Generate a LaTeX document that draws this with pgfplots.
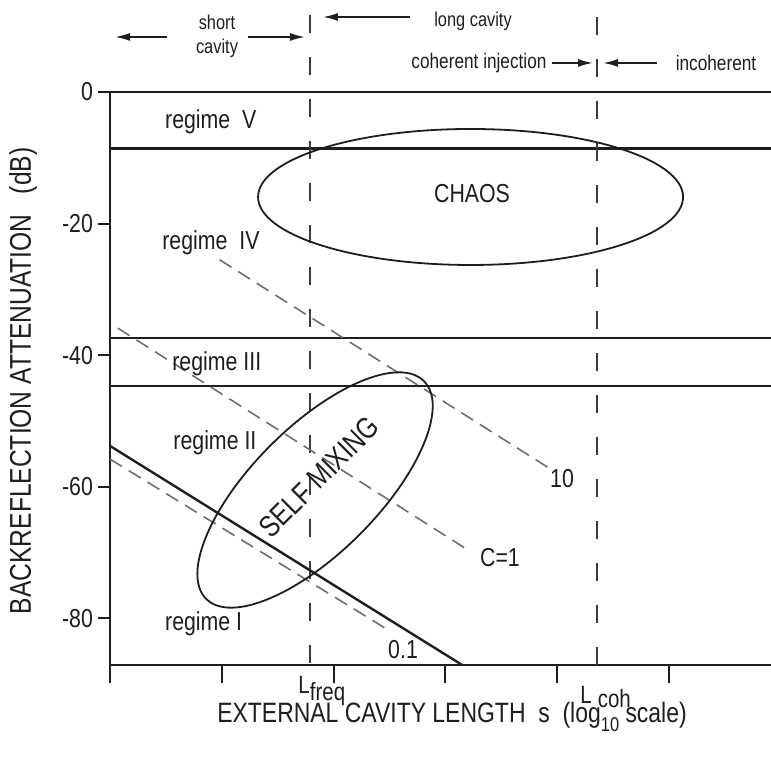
\documentclass[border=0pt]{standalone}
\usepackage{pgfplots}
\pgfplotsset{compat=1.18}
\usepackage{fontspec}
\setmainfont{Liberation Sans}[FakeStretch=0.82]
\usetikzlibrary{arrows.meta}

\definecolor{ink}{HTML}{1E1E1E}
\definecolor{dashgray}{HTML}{6E6E6E}
\definecolor{vgray}{HTML}{3C3C3C}

\tikzset{arr/.style={line width=0.9pt, ink, -{Latex[length=7.5pt,width=4pt]}}}

\begin{document}
\begin{tikzpicture}[font=\fontsize{13}{15}\selectfont, text=ink]
\useasboundingbox (0,0) rectangle (385.5pt,379pt);
\begin{axis}[
  at={(55pt,46.5pt)}, anchor=south west,
  scale only axis, width=330.5pt, height=286.5pt,
  xmin=0, xmax=5.912, ymin=-87.1, ymax=0,
  axis x line=bottom, axis y line=left,
  axis line style={-, line width=1pt, ink},
  clip=false,
  xtick={0,1,2,3,4,5}, xticklabels={},
  ytick={0,-20,-40,-60,-80},
  tick align=outside,
  major tick length=6pt,
  tick style={line width=1pt, ink},
  xtick style={/pgfplots/major tick length=9pt},
  /pgf/number format/assume math mode=true,
  yticklabel style={font=\fontsize{13}{13}\selectfont, xshift=1pt},
]
% regime boundaries
\addplot[ink, line width=1.4pt] coordinates {(0,0) (5.912,0)};
\addplot[ink, line width=1.4pt] coordinates {(0,-8.6) (5.912,-8.6)};
\addplot[ink, line width=1.4pt] coordinates {(0,-37.4) (5.912,-37.4)};
\addplot[ink, line width=1.4pt] coordinates {(0,-44.7) (5.912,-44.7)};

% characteristic lengths
\addplot[vgray, line width=0.8pt, dash pattern=on 9pt off 12pt] coordinates {(1.789,11.7) (1.789,-88.6)};
\addplot[vgray, line width=0.8pt, dash pattern=on 9pt off 12pt] coordinates {(4.356,11.4) (4.356,-88.6)};

% feedback parameter contours
\addplot[ink, line width=1.2pt] coordinates {(0,-53.8) (3.15,-87.1)};
\addplot[dashgray, line width=0.8pt, dash pattern=on 7pt off 4pt] coordinates {(0,-55.8) (2.48,-81.7)};
\addplot[dashgray, line width=0.8pt, dash pattern=on 7pt off 4pt] coordinates {(0.07,-35.9) (3.2,-69.6)};
\addplot[dashgray, line width=0.8pt, dash pattern=on 7pt off 4pt] coordinates {(0.98,-25.5) (3.92,-57.1)};

% regions
\draw[ink, line width=0.9pt] (axis cs:3.225,-15.96) ellipse [x radius=106.25pt, y radius=34pt];
\draw[ink, line width=0.9pt, rotate around={45:(axis cs:1.834,-60.5)}] (axis cs:1.834,-60.5) ellipse [x radius=77pt, y radius=31.5pt];
\node at (axis cs:3.238,-15.5) {CHAOS};
\node[rotate=45, font=\fontsize{15}{17}\selectfont] at (axis cs:1.87,-58.5) {SELF MIXING};

% regime labels
\begin{scope}[every node/.style={anchor=west, inner sep=0pt}]
\node at (axis cs:0.49,-4.56) {regime\ \ V};
\node at (axis cs:0.465,-22.96) {regime\ \ IV};
\node at (axis cs:0.554,-41.35) {regime III};
\node at (axis cs:0.564,-53.36) {regime II};
\node at (axis cs:0.49,-80.9) {regime I};
\end{scope}

% contour values
\node at (axis cs:4.043,-58.7) {10};
\node at (axis cs:3.488,-70.8) {C=1};
\node at (axis cs:2.621,-84.8) {0.1};

% top annotations
\node[align=center, font=\fontsize{10}{12}\selectfont] at (axis cs:0.957,8.5) {short\\cavity};
\draw[arr] (axis cs:0.51,8.36) -- (axis cs:0.045,8.36);
\draw[arr] (axis cs:1.234,8.36) -- (axis cs:1.744,8.36);
\draw[arr] (axis cs:2.683,11.4) -- (axis cs:1.905,11.4);
\node[font=\fontsize{10}{12}\selectfont] at (axis cs:3.247,10.8) {long cavity};
\node[font=\fontsize{10.5}{12}\selectfont] at (axis cs:3.30,4.41) {coherent injection};
\draw[arr] (axis cs:3.953,4.41) -- (axis cs:4.32,4.41);
\draw[arr] (axis cs:4.893,4.41) -- (axis cs:4.41,4.41);
\node[font=\fontsize{10.5}{12}\selectfont] at (axis cs:5.42,4.41) {incoherent};

% axis titles and length markers
\node[anchor=base west, inner sep=0pt, font=\fontsize{12.5}{14}\selectfont] at (axis cs:1.682,-91.37) {L\raisebox{-3.5pt}{freq}};
\node[anchor=base west, inner sep=0pt, font=\fontsize{12.5}{14}\selectfont] at (axis cs:4.204,-92.89) {L\kern3pt\raisebox{-2pt}{coh}};
\node[font=\fontsize{14}{16}\selectfont] at (axis cs:3.059,-95.0) {EXTERNAL CAVITY LENGTH\ \ s\ \ (log\raisebox{-0.6ex}{\fontsize{10}{10}\selectfont 10}\ scale)};
\node[rotate=90, font=\fontsize{15}{17}\selectfont] at (axis cs:-0.778,-43.9) {BACKREFLECTION ATTENUATION\ \ \ (dB)};
\end{axis}
\end{tikzpicture}
\end{document}
